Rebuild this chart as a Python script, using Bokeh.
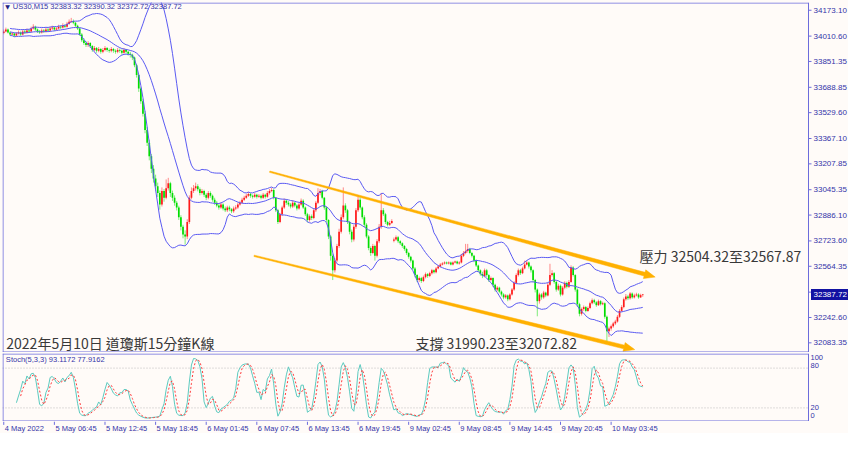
import numpy as np
import pandas as pd
from bokeh.plotting import figure
from bokeh.layouts import column
from bokeh.models import Range1d, Span, ColumnDataSource
from bokeh.embed import file_html
from bokeh.resources import INLINE
from bokeh.core.properties import value

# ---------------- data ----------------
symbol_label = "US30,M15"
last_ohlc = ["32383.32", "32390.32", "32372.72", "32387.72"]
stoch_name = "Stoch(5,3,3)"
stoch_last = ["93.1172", "77.9162"]

closes = [
    34040, 34052, 34033, 34021, 34027, 34015, 34027, 34033, 34021, 34040,
    34033, 34046, 34040, 34058, 34070, 34052, 34040, 34033, 34046, 34040,
    34052, 34046, 34058, 34064, 34052, 34058, 34070, 34064, 34076, 34070,
    34088, 34100, 34106, 34094, 34076, 34058, 34021, 33985, 33967, 33954,
    33967, 33948, 33924, 33936, 33918, 33930, 33912, 33924, 33936, 33924,
    33918, 33930, 33918, 33912, 33924, 33918, 33906, 33924, 33912, 33900,
    33894, 33876, 33827, 33766, 33681, 33602, 33523, 33420, 33341, 33256,
    33177, 33116, 33067, 33025, 32952, 33037, 32995, 33055, 33086, 33025,
    32995, 32964, 32934, 32873, 32812, 32764, 32752, 32843, 32995, 33037,
    33055, 33067, 33049, 33025, 33037, 33013, 32995, 33025, 33007, 32982,
    32964, 32946, 32934, 32952, 32928, 32916, 32934, 32922, 32910, 32928,
    32934, 32952, 32964, 32982, 32995, 33007, 33019, 33007, 33001, 33013,
    33001, 33007, 32995, 33013, 33001, 33025, 33037, 33043, 32995, 32916,
    32843, 32891, 32934, 32976, 32964, 32952, 32940, 32964, 32946, 32928,
    32952, 32976, 32934, 32891, 32855, 32879, 32867, 32916, 32964, 33025,
    33037, 32995, 32934, 32855, 32752, 32630, 32539, 32600, 32691, 32782,
    32873, 32946, 32916, 32843, 32782, 32733, 32812, 32916, 32982, 32934,
    32873, 32825, 32752, 32679, 32648, 32691, 32630, 32721, 32812, 32916,
    32891, 32843, 32825, 32837, 32849, 32733, 32746, 32721, 32709, 32691,
    32673, 32648, 32624, 32600, 32551, 32509, 32478, 32490, 32472, 32496,
    32515, 32503, 32521, 32539, 32527, 32551, 32563, 32575, 32582, 32588,
    32582, 32588, 32575, 32588, 32594, 32582, 32588, 32630, 32648, 32660,
    32673, 32648, 32630, 32600, 32569, 32539, 32515, 32503, 32539, 32509,
    32478, 32490, 32448, 32418, 32430, 32405, 32387, 32369, 32381, 32357,
    32387, 32418, 32460, 32509, 32539, 32521, 32551, 32575, 32588, 32563,
    32539, 32478, 32418, 32345, 32387, 32369, 32399, 32381, 32448, 32509,
    32521, 32466, 32418, 32442, 32387, 32430, 32460, 32436, 32466, 32557,
    32509, 32418, 32326, 32266, 32296, 32308, 32284, 32302, 32332, 32351,
    32338, 32320, 32345, 32326, 32332, 32247, 32156, 32174, 32187, 32205,
    32217, 32247, 32284, 32308, 32357, 32375, 32363, 32393, 32369, 32381,
    32387, 32369, 32383, 32387.72,
]
highs = [
    34052, 34064, 34058, 34040, 34036, 34033, 34036, 34046, 34040, 34052,
    34049, 34058, 34055, 34070, 34085, 34076, 34058, 34049, 34058, 34055,
    34064, 34061, 34070, 34076, 34070, 34067, 34082, 34079, 34091, 34085,
    34100, 34115, 34125, 34115, 34100, 34082, 34064, 34030, 33997, 33979,
    33979, 33973, 33954, 33948, 33942, 33942, 33936, 33936, 33948, 33942,
    33933, 33942, 33936, 33927, 33936, 33933, 33927, 33936, 33930, 33918,
    33912, 33900, 33882, 33836, 33772, 33690, 33615, 33540, 33440, 33360,
    33270, 33200, 33140, 33090, 33040, 33060, 33050, 33110, 33120, 33095,
    33040, 33010, 32975, 32945, 32885, 32825, 32790, 32860, 33010, 33060,
    33075, 33090, 33080, 33060, 33050, 33045, 33025, 33037, 33035, 33015,
    32995, 32975, 32958, 32965, 32960, 32940, 32945, 32945, 32930, 32940,
    32948, 32964, 32976, 32995, 33007, 33020, 33032, 33025, 33015, 33025,
    33020, 33018, 33015, 33025, 33020, 33037, 33050, 33058, 33050, 33000,
    32925, 32900, 32945, 32990, 32985, 32975, 32962, 32980, 32970, 32955,
    32965, 32990, 32985, 32940, 32900, 32890, 32890, 32930, 32975, 33055,
    33050, 33045, 33000, 32940, 32860, 32760, 32640, 32615, 32705, 32800,
    32890, 33060, 32960, 32925, 32850, 32795, 32825, 32930, 33010, 32995,
    32940, 32885, 32835, 32760, 32690, 32705, 32700, 32735, 32830, 33025,
    32930, 32900, 32850, 32850, 32860, 32745, 32758, 32755, 32728, 32715,
    32698, 32680, 32655, 32630, 32606, 32560, 32515, 32500, 32498, 32506,
    32525, 32522, 32530, 32548, 32545, 32560, 32572, 32584, 32590, 32595,
    32594, 32595, 32594, 32595, 32600, 32600, 32596, 32642, 32660, 32705,
    32705, 32680, 32655, 32636, 32608, 32575, 32545, 32530, 32550, 32548,
    32515, 32500, 32495, 32455, 32440, 32436, 32412, 32395, 32390, 32387,
    32395, 32428, 32470, 32520, 32550, 32548, 32562, 32600, 32600, 32594,
    32570, 32545, 32485, 32425, 32398, 32395, 32410, 32405, 32460, 32580,
    32540, 32528, 32472, 32455, 32450, 32440, 32470, 32468, 32478, 32570,
    32565, 32515, 32425, 32335, 32305, 32318, 32315, 32312, 32342, 32362,
    32360, 32345, 32355, 32352, 32342, 32338, 32255, 32185, 32198, 32215,
    32228, 32258, 32295, 32320, 32368, 32390, 32385, 32402, 32400, 32392,
    32398, 32395, 32392, 32390.32,
]
lows = [
    34022, 34034, 34027, 34012, 34015, 34006, 34009, 34021, 34012, 34015,
    34024, 34027, 34030, 34033, 34052, 34043, 34030, 34024, 34027, 34030,
    34033, 34036, 34040, 34049, 34043, 34046, 34052, 34055, 34058, 34061,
    34064, 34082, 34094, 34085, 34067, 34049, 34012, 33973, 33955, 33942,
    33942, 33936, 33912, 33915, 33906, 33909, 33900, 33903, 33915, 33912,
    33906, 33909, 33906, 33900, 33903, 33906, 33894, 33900, 33900, 33888,
    33876, 33860, 33815, 33750, 33660, 33585, 33505, 33400, 33320, 33230,
    33150, 33090, 33040, 33000, 32920, 32940, 32970, 32985, 33040, 33000,
    32975, 32945, 32915, 32855, 32790, 32740, 32700, 32735, 32830, 32985,
    33025, 33040, 33035, 33010, 33015, 33000, 32980, 32985, 32995, 32970,
    32950, 32935, 32920, 32925, 32915, 32905, 32905, 32910, 32898, 32900,
    32918, 32925, 32945, 32958, 32975, 32988, 33000, 32995, 32990, 32995,
    32990, 32995, 32985, 32988, 32990, 32995, 33015, 33030, 32985, 32905,
    32830, 32835, 32880, 32925, 32950, 32940, 32928, 32930, 32935, 32915,
    32920, 32945, 32925, 32880, 32840, 32845, 32855, 32860, 32905, 32955,
    33010, 32985, 32920, 32840, 32735, 32600, 32478, 32525, 32590, 32680,
    32770, 32860, 32900, 32830, 32765, 32715, 32720, 32800, 32905, 32920,
    32860, 32810, 32740, 32665, 32630, 32640, 32600, 32620, 32710, 32800,
    32880, 32830, 32815, 32818, 32830, 32715, 32725, 32710, 32698, 32680,
    32662, 32636, 32612, 32588, 32540, 32495, 32465, 32466, 32460, 32465,
    32488, 32492, 32496, 32512, 32518, 32520, 32545, 32556, 32570, 32576,
    32576, 32576, 32570, 32570, 32582, 32576, 32575, 32582, 32622, 32640,
    32650, 32640, 32620, 32590, 32560, 32528, 32505, 32490, 32495, 32498,
    32466, 32470, 32435, 32405, 32408, 32395, 32375, 32357, 32360, 32345,
    32350, 32380, 32410, 32452, 32500, 32510, 32515, 32545, 32570, 32550,
    32525, 32465, 32400, 32250, 32330, 32355, 32360, 32370, 32375, 32440,
    32500, 32455, 32405, 32410, 32375, 32380, 32420, 32425, 32428, 32460,
    32500, 32405, 32310, 32250, 32255, 32285, 32275, 32278, 32295, 32325,
    32328, 32310, 32315, 32318, 32320, 32235, 32085, 32120, 32160, 32178,
    32195, 32210, 32240, 32278, 32300, 32348, 32352, 32355, 32360, 32362,
    32375, 32360, 32365, 32372.72,
]
first_open = 34030
gap_bar = 185
gap_open = 32725
last_open = 32383.32

price_ticks = [34173.10, 34010.60, 33851.35, 33688.85, 33529.60, 33367.10, 33207.85,
               33045.35, 32886.10, 32723.60, 32564.35, 32401.85, 32242.60, 32083.35]
stoch_levels = [20, 80]
stoch_tick_labels = ["100", "80", "20", "0"]
stoch_tick_pos = [96, 84, 20, 8]          # where the labels sit on the 0-100 scale
time_tick_bars = [0, 24, 48, 72, 96, 120, 144, 168, 192, 216, 240, 264, 288]
time_tick_labels = ["4 May 2022", "5 May 06:45", "5 May 12:45", "5 May 18:45", "6 May 01:45",
                    "6 May 07:45", "6 May 13:45", "6 May 19:45", "9 May 02:45", "9 May 08:45",
                    "9 May 14:45", "9 May 20:45", "10 May 03:45"]

trend_top_x = [126.1, 308.9]
trend_top_y = [33158.6, 32496.4]
trend_bot_x = [118.7, 299.2]
trend_bot_y = [32630.0, 32040.8]

title_text = "2022年5月10日 道瓊斯15分鐘K線"
support_text = "支撐 31990.23至32072.82"
resist_text = "壓力 32504.32至32567.87"

# ---------------- derived series ----------------
n = len(closes)
idx = np.arange(n)
opens = [first_open] + closes[:-1]
opens[gap_bar] = gap_open
opens[-1] = last_open
O = np.array(opens, float); C = np.array(closes, float)
H = np.array(highs, float); L = np.array(lows, float)
up = C >= O

cs = pd.Series(C)
mid = cs.rolling(20, min_periods=4).mean()
sd = cs.rolling(20, min_periods=4).std(ddof=0)
bb_up = (mid + 2 * sd).values
bb_dn = (mid - 2 * sd).values
bb_mid = mid.values

hs, ls = pd.Series(H), pd.Series(L)
ll = ls.rolling(5).min(); hh = hs.rolling(5).max()
k = 100 * (cs - ll).rolling(3).sum() / (hh - ll).rolling(3).sum()
d = k.rolling(3).mean()

# ---------------- layout constants ----------------
BG = "#FFFBF8"
FRAME = "#6c6cdc"
AXTXT = "#3434a8"
SMALL_FONT = "Liberation Sans"
CJK_FONT = "Noto Sans CJK TC"
UP_C = "#ff1a1a"
DN_C = "#00dd00"
BB_C = "#5a5af2"
TREND_C = "#ffb000"

PLOT_W = 806                 # width of the price area in px
AXW = 40                     # width of the price-scale strip in px
XSTART, XEND = -0.6, 381.6
PXB = PLOT_W / (XEND - XSTART)          # px per bar
XR = Range1d(XSTART, XEND + AXW / PXB)
FW = PLOT_W + AXW
HM, HS, HT = 350, 68, 12
YMIN, YMAX = 32022.6, 34221.7
PPY = (YMAX - YMIN) / HM               # price per px (main)
SR = (-0.5, 102.0)
SPY = (SR[1] - SR[0]) / HS


def base_fig(h, yr, top=0):
    f = figure(frame_width=FW, frame_height=h, x_range=XR, y_range=Range1d(*yr),
               output_backend="svg", toolbar_location=None,
               x_axis_location=None, y_axis_location=None,
               min_border_left=2, min_border_right=0, min_border_top=top, min_border_bottom=0)
    f.grid.visible = False
    f.background_fill_color = BG
    f.border_fill_color = BG
    f.outline_line_color = None
    return f


def frame_box(f, y0, y1, ppy):
    yb, yt = y0 + 0.5 * ppy, y1 - 0.5 * ppy
    xl = XSTART + 0.5 / PXB
    f.segment(x0=[xl, XSTART, XSTART], y0=[y0, yt, yb], x1=[xl, XEND, XEND], y1=[y1, yt, yb],
              line_color=FRAME, line_width=1)
    f.add_layout(Span(location=XEND, dimension="height", line_color=FRAME, line_width=1))


# ---------------- main price panel ----------------
p = base_fig(HM, (YMIN, YMAX), top=2)

src = ColumnDataSource(dict(
    x=idx, h=H, l=L,
    top=np.maximum(O, C), bot=np.minimum(O, C),
    col=[UP_C if u else DN_C for u in up],
))
p.segment(x0="x", y0="l", x1="x", y1="h", source=src, line_color="col", line_alpha=0.5, line_width=1)
p.vbar(x="x", width=0.8, top="top", bottom="bot", source=src, fill_color="col", line_color=None)

for band in (bb_up, bb_mid, bb_dn):
    p.line(idx, band, line_color=BB_C, line_width=1)


def arrow_patch(xs, ys, w0=0.7, w1=1.9, head_len=11, head_w=4.5):
    x0p, y0p = xs[0] * PXB, ys[0] / PPY
    x1p, y1p = xs[1] * PXB, ys[1] / PPY
    dx, dy = x1p - x0p, y1p - y0p
    ln = np.hypot(dx, dy)
    ux, uy = dx / ln, dy / ln
    nx, ny = -uy, ux
    bx, by = x1p - ux * head_len, y1p - uy * head_len
    pts = [
        (x0p + nx * w0, y0p + ny * w0),
        (bx + nx * w1, by + ny * w1),
        (bx + nx * head_w, by + ny * head_w),
        (x1p, y1p),
        (bx - nx * head_w, by - ny * head_w),
        (bx - nx * w1, by - ny * w1),
        (x0p - nx * w0, y0p - ny * w0),
    ]
    return [q[0] / PXB for q in pts], [q[1] * PPY for q in pts]


for tx, ty in ((trend_top_x, trend_top_y), (trend_bot_x, trend_bot_y)):
    px_, py_ = arrow_patch(tx, ty)
    p.patch(px_, py_, fill_color=TREND_C, line_color=TREND_C, line_width=0.5)

frame_box(p, YMIN, YMAX, PPY)

# price scale (drawn through the figure's own y scale)
np_t = len(price_ticks)
p.segment(x0=[XEND] * np_t, y0=price_ticks, x1=[XEND + 3 / PXB] * np_t, y1=price_ticks,
          line_color=FRAME, line_width=1)
p.text(x=[XEND + 5 / PXB] * np_t, y=price_ticks, text=[f"{t:.2f}" for t in price_ticks],
       text_align="left", text_baseline="middle", text_font=value(SMALL_FONT),
       text_font_size="8px", text_color=AXTXT)
# current price marker
p.rect(x=[XEND + 21 / PXB], y=[C[-1]], width=37, height=11, width_units="screen",
       height_units="screen", fill_color="#1212a2", line_color=None)
p.text(x=[XEND + 5 / PXB], y=[C[-1]], text=[f"{C[-1]:.2f}"], text_align="left",
       text_baseline="middle", text_font=value(SMALL_FONT), text_font_size="8px", text_color="white")

# texts
p.text(x=[0.7], y=[34197], text=["▼"], text_font=value("DejaVu Sans"), text_font_size="6px",
       text_color="#202080", text_baseline="middle")
p.text(x=[4.3], y=[34197], text=[symbol_label + "  " + " ".join(last_ohlc)],
       text_font=value(SMALL_FONT), text_font_size="7.5px", text_color=AXTXT, text_baseline="middle")
p.text(x=[1.2, 195.2, 301.5], y=[32083, 32083, 32630], text=[title_text, support_text, resist_text],
       text_font=value(CJK_FONT), text_font_size="14px", text_color="#383838",
       text_baseline="middle", text_align="left")

# ---------------- stochastic panel ----------------
s = base_fig(HS, SR, top=1)
for lv in stoch_levels:
    s.segment(x0=[XSTART], y0=[lv], x1=[XEND], y1=[lv], line_color="#bdbdbd",
              line_dash="1 2", line_width=1)
s.line(idx, k.values, line_color="#5ccabf", line_width=1)
s.line(idx, d.values, line_color="#ff3c3c", line_width=1, line_dash="2 2")
frame_box(s, SR[0], SR[1], SPY)
s.text(x=[XEND + 2 / PXB] * 4, y=stoch_tick_pos, text=stoch_tick_labels, text_align="left",
       text_baseline="middle", text_font=value(SMALL_FONT), text_font_size="7.5px", text_color=AXTXT)
s.text(x=[1.0], y=[93], text=[f"{stoch_name} {stoch_last[0]} {stoch_last[1]}"],
       text_font=value(SMALL_FONT), text_font_size="7.5px", text_color=AXTXT, text_baseline="middle")

# ---------------- time axis strip ----------------
t = base_fig(HT, (0, 1))
nt = len(time_tick_bars)
t.segment(x0=time_tick_bars, y0=[1.0] * nt, x1=time_tick_bars, y1=[0.72] * nt,
          line_color=FRAME, line_width=1)
t.text(x=time_tick_bars, y=[0.42] * nt, text=time_tick_labels, x_offset=1,
       text_align="left", text_baseline="middle", text_font=value(SMALL_FONT),
       text_font_size="7.5px", text_color=AXTXT)

layout = column(p, s, t, spacing=0, background=BG)
open("out.html", "w").write(file_html(layout, INLINE))
